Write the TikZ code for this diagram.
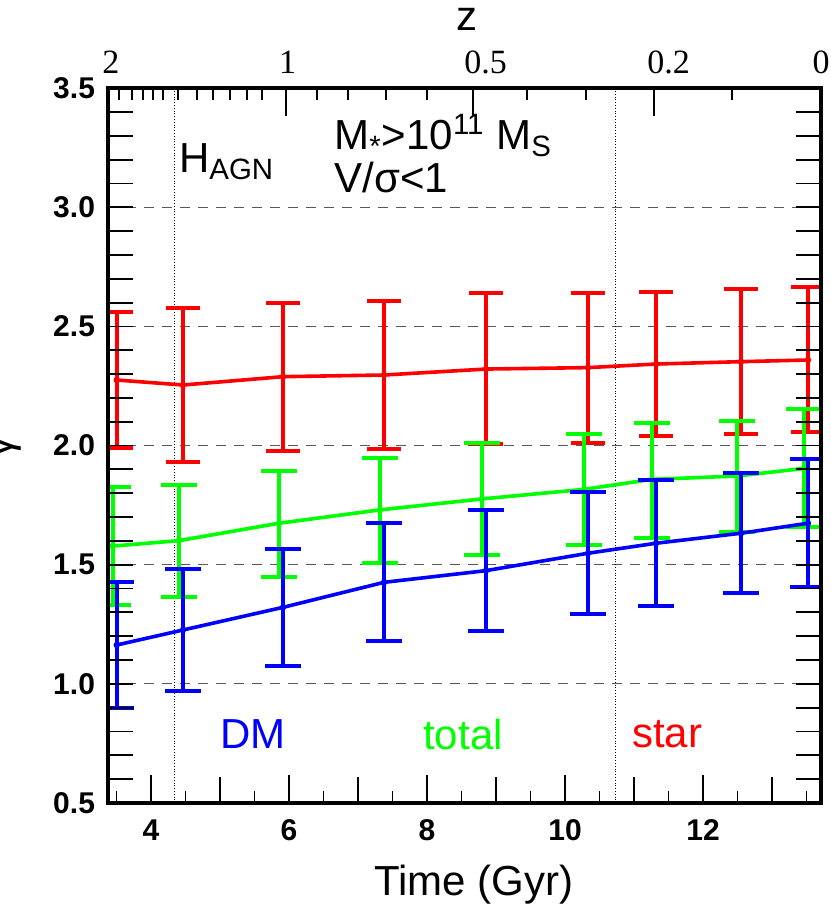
\documentclass[tikz,border=0pt]{standalone}
\usepackage{fontspec}
\setmainfont{Liberation Sans}
\newfontfamily\zfont{Liberation Serif}
\usepackage{tikz}

\begin{document}
\begin{tikzpicture}[
    errbar/.style={line width=2pt},
    trend/.style={line width=1.8pt},
    axisnum/.style={font=\fontsize{15}{15}\selectfont\bfseries},
    znum/.style={font=\zfont\fontsize{17}{17}\selectfont},
    lbl/.style={font=\fontsize{21}{21}\selectfont}
]
    \useasboundingbox (0,0) rectangle (415pt,454.5pt);

    % data coordinates: time in Gyr, slope gamma
    \begin{scope}[shift={(-62.5pt,-6.575pt)}, x=34.5pt, y=119.15pt]
    % Grid
    \foreach \g in {1.0,1.5,2.0,2.5,3.0}
        \draw[gray!70!black, line width=0.5pt, dash pattern=on 5pt off 4pt] (3.377,\g) -- (13.71,\g);
    \draw[densely dotted, line width=0.4pt] (4.333,0.5) -- (4.333,3.5);
    \draw[densely dotted, line width=0.4pt] (10.725,0.5) -- (10.725,3.5);

    \begin{scope}
        \clip (3.377,0.5) rectangle (13.71,3.5);
        % Star
        \foreach \t/\g/\lo/\hi in {3.503/2.275/1.988/2.559, 4.464/2.254/1.932/2.576,
            5.913/2.289/1.979/2.597, 7.377/2.296/1.984/2.607, 8.855/2.321/2.005/2.639,
            10.333/2.327/2.009/2.639, 11.319/2.342/2.04/2.644, 12.551/2.352/2.049/2.655,
            13.522/2.359/2.057/2.665}
        {
            \draw[errbar, red] (\t,\lo) -- (\t,\hi);
            \draw[errbar, red] ([xshift=-8.3pt]\t,\lo) -- ([xshift=8.3pt]\t,\lo);
            \draw[errbar, red] ([xshift=-8.3pt]\t,\hi) -- ([xshift=8.3pt]\t,\hi);
            \fill[red] (\t,\g) circle (1.6pt);
        }
        \draw[trend, red] plot coordinates {(3.503,2.275) (4.464,2.254) (5.913,2.289)
            (7.377,2.296) (8.855,2.321) (10.333,2.327) (11.319,2.342) (12.551,2.352) (13.522,2.359)};
        % Total
        \foreach \t/\g/\lo/\hi in {3.445/1.578/1.331/1.827, 4.406/1.601/1.366/1.833,
            5.855/1.674/1.45/1.893, 7.319/1.73/1.506/1.946, 8.797/1.776/1.541/2.009,
            10.275/1.816/1.583/2.047, 11.261/1.858/1.611/2.093, 12.493/1.872/1.638/2.104,
            13.464/1.904/1.659/2.152}
        {
            \draw[errbar, green] (\t,\lo) -- (\t,\hi);
            \draw[errbar, green] ([xshift=-9pt]\t,\lo) -- ([xshift=9pt]\t,\lo);
            \draw[errbar, green] ([xshift=-9pt]\t,\hi) -- ([xshift=9pt]\t,\hi);
            \fill[green] (\t,\g) circle (1.6pt);
        }
        \draw[trend, green] plot coordinates {(3.445,1.578) (4.406,1.601) (5.855,1.674)
            (7.319,1.73) (8.797,1.776) (10.275,1.816) (11.261,1.858) (12.493,1.872) (13.464,1.904)};
        % DM
        \foreach \t/\g/\lo/\hi in {3.503/1.163/0.9/1.429, 4.464/1.226/0.971/1.482,
            5.913/1.321/1.075/1.565, 7.377/1.426/1.181/1.674, 8.855/1.475/1.223/1.73,
            10.333/1.548/1.293/1.804, 11.319/1.59/1.328/1.856, 12.551/1.632/1.38/1.886,
            13.522/1.674/1.405/1.942}
        {
            \draw[errbar, blue] (\t,\lo) -- (\t,\hi);
            \draw[errbar, blue] ([xshift=-8.8pt]\t,\lo) -- ([xshift=8.8pt]\t,\lo);
            \draw[errbar, blue] ([xshift=-8.8pt]\t,\hi) -- ([xshift=8.8pt]\t,\hi);
            \fill[blue] (\t,\g) circle (1.6pt);
        }
        \draw[trend, blue] plot coordinates {(3.503,1.163) (4.464,1.226) (5.913,1.321)
            (7.377,1.426) (8.855,1.475) (10.333,1.548) (11.319,1.59) (12.551,1.632) (13.522,1.674)};
    \end{scope}

    % Ticks
    \foreach \g in {0.6,0.7,...,3.45} {
        \draw[line width=0.9pt] (3.377,\g) -- ++(12.5pt,0);
        \draw[line width=0.9pt] (13.71,\g) -- ++(-12.5pt,0);
    }
    \foreach \t in {4,6,...,12}
        \draw[line width=0.9pt] (\t,0.5) -- ++(0,14pt);
    \foreach \t in {5,7,...,13}
        \draw[line width=0.9pt] (\t,0.5) -- ++(0,13pt);
    \foreach \t in {3.5,4.5,...,13.5}
        \draw[line width=0.9pt] (\t,0.5) -- ++(0,6pt);
    \foreach \t in {3.536,3.720,3.880,4.033,4.170,4.387,4.662,4.903,5.145,5.387,5.613,
        6.401,6.859,7.406,7.996,9.445,10.304,12.416}
        \draw[line width=0.9pt] (\t,3.5) -- ++(0,-6pt);
    \foreach \t in {5.952,8.671,11.294}
        \draw[line width=0.9pt] (\t,3.5) -- ++(0,-14pt);

    % Frame
    \draw[line width=1.8pt] (3.377,0.5) rectangle (13.71,3.5);

    % Tick labels
    \foreach \g in {0.5,1.0,1.5,2.0,2.5,3.0,3.5}
        \node[axisnum, anchor=east] at ([xshift=-3pt]3.377,\g) {\g};
    \foreach \t in {4,6,...,12}
        \node[axisnum] at ([yshift=-13.5pt]\t,0.5) {\t};
    \node[znum] (ztwo) at (3.42,3.5) [yshift=13pt] {2};
    \node[znum] (zone) at (5.98,3.5) [yshift=13pt] {1};
    \node[znum] (zhalf) at (8.85,3.5) [yshift=13pt] {0.5};
    \node[znum] (zfifth) at (11.5,3.5) [yshift=13pt] {0.2};
    \node[znum] (zzero) at (13.71,3.5) [yshift=13pt] {0};
    \end{scope}

    % Axis titles
    \node[lbl] (xtitle) at (237pt,12pt) {Time (Gyr)};
    \node[lbl] (ztitle) at (233.5pt,445pt) {z};
    \node[lbl, rotate=90] (ytitle) at (3pt,231pt) {γ};

    % Labels
    \node[lbl, anchor=base west] (hagn) at (86pt,368pt) {H\textsubscript{AGN}};
    \node[lbl, anchor=base west, inner sep=1pt] (mass) at (166pt,379.5pt)
        {M\textsubscript{*}>10\textsuperscript{11} M\textsubscript{S}};
    \node[lbl, anchor=base west, inner sep=1pt] (vsig) at (166pt,358pt) {V/σ<1};
    \node[lbl, text=blue] (dm) at (126.5pt,87.5pt) {DM};
    \node[lbl, text=green] (total) at (231.5pt,87.5pt) {total};
    \node[lbl, text=red] (star) at (333.5pt,87.5pt) {star};
\end{tikzpicture}
\end{document}
